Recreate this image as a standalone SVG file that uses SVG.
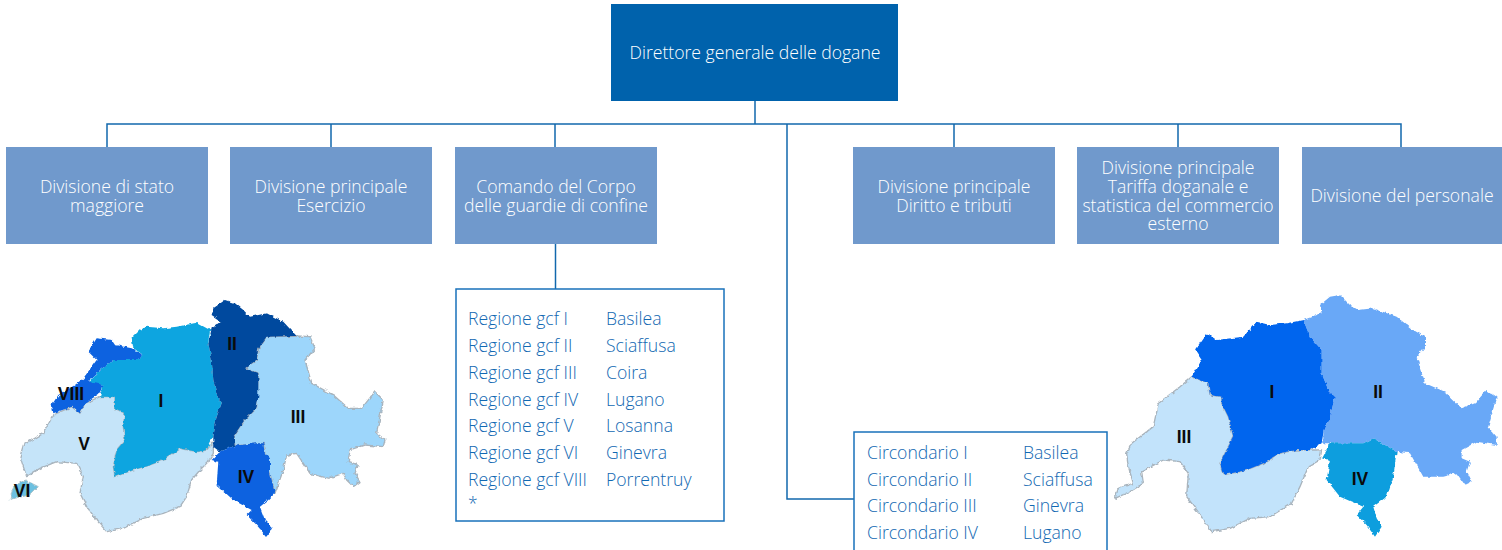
<svg xmlns="http://www.w3.org/2000/svg" width="1502" height="550" viewBox="0 0 1502 550">
<style>
text{font-family:"Open Sans","Liberation Sans",sans-serif}
.w{fill:#fff;font-size:17.6px;font-weight:300;text-anchor:middle}
.b{fill:#1168b2;font-size:17.6px;font-weight:300}
.m{fill:#0b0b0b;font-family:"Liberation Sans",Arial,sans-serif;font-size:17.5px;font-weight:700;text-anchor:middle}
.box{fill:#7099cc}
.frame{fill:#fff;stroke:#1872bb;stroke-width:1.5}
.line{fill:none;stroke:#1268ad;stroke-width:1.5}
.map path{stroke-linejoin:round}
.e{stroke:#a9b4bd;stroke-width:4}
</style>
<defs>
<filter id="rough" x="-5%" y="-5%" width="110%" height="110%">
<feTurbulence type="fractalNoise" baseFrequency=".22" numOctaves="2" seed="4" result="n"/>
<feDisplacementMap in="SourceGraphic" in2="n" scale="4" xChannelSelector="R" yChannelSelector="G"/>
<feGaussianBlur stdDeviation=".45"/>
</filter>
</defs>
<rect width="1502" height="550" fill="#fff"/>
<g id="connectors" class="line">
<path class="line" d="M755 101V124M107 147V124H1401V147M331 124V147M555 124V147M954 124V147M1178 124V147"/>
<path class="line" d="M555.500 244V289"/>
<path class="line" d="M787 124V499H854"/>
</g>
<g id="n-director"><rect x="611" y="4" width="287" height="97" fill="#0062ac"/><text class="w" x="755" y="59">Direttore generale delle dogane</text></g>
<g id="n-stato"><rect class="box" x="6" y="147" width="202" height="97"/><text class="w"><tspan x="107" y="193">Divisione di stato</tspan><tspan x="107" y="212">maggiore</tspan></text></g>
<g id="n-esercizio"><rect class="box" x="230" y="147" width="202" height="97"/><text class="w"><tspan x="331" y="193">Divisione principale</tspan><tspan x="331" y="212">Esercizio</tspan></text></g>
<g id="n-comando"><rect class="box" x="455" y="147" width="202" height="97"/><text class="w"><tspan x="556" y="193">Comando del Corpo</tspan><tspan x="556" y="212">delle guardie di confine</tspan></text></g>
<g id="n-diritto"><rect class="box" x="853" y="147" width="202" height="97"/><text class="w"><tspan x="954" y="193">Divisione principale</tspan><tspan x="954" y="212">Diritto e tributi</tspan></text></g>
<g id="n-tariffa"><rect class="box" x="1077" y="147" width="202" height="97"/><text class="w"><tspan x="1178" y="174">Divisione principale</tspan><tspan x="1178" y="193">Tariffa doganale e</tspan><tspan x="1178" y="212">statistica del commercio</tspan><tspan x="1178" y="230">esterno</tspan></text></g>
<g id="n-personale"><rect class="box" x="1302" y="147" width="200" height="97"/><text class="w" x="1402" y="202">Divisione del personale</text></g>
<g id="n-regioni"><rect class="frame" x="456" y="289" width="268" height="232"/>
<text class="b"><tspan x="468" y="325">Regione gcf I</tspan><tspan x="468" y="352">Regione gcf II</tspan><tspan x="468" y="379">Regione gcf III</tspan><tspan x="468" y="406">Regione gcf IV</tspan><tspan x="468" y="432">Regione gcf V</tspan><tspan x="468" y="459">Regione gcf VI</tspan><tspan x="468" y="486">Regione gcf VIII</tspan><tspan x="468" y="510">*</tspan></text>
<text class="b"><tspan x="606" y="325">Basilea</tspan><tspan x="606" y="352">Sciaffusa</tspan><tspan x="606" y="379">Coira</tspan><tspan x="606" y="406">Lugano</tspan><tspan x="606" y="432">Losanna</tspan><tspan x="606" y="459">Ginevra</tspan><tspan x="606" y="486">Porrentruy</tspan></text></g>
<g id="n-circondari"><rect class="frame" x="854" y="432" width="253" height="130"/>
<text class="b"><tspan x="867" y="459">Circondario I</tspan><tspan x="867" y="486">Circondario II</tspan><tspan x="867" y="512">Circondario III</tspan><tspan x="867" y="539">Circondario IV</tspan></text>
<text class="b"><tspan x="1023" y="459">Basilea</tspan><tspan x="1023" y="486">Sciaffusa</tspan><tspan x="1023" y="512">Ginevra</tspan><tspan x="1023" y="539">Lugano</tspan></text></g>
<g id="map-left" class="map">
<g filter="url(#rough)"><g transform="translate(0 280) scale(.3333)">
<path class="e" fill="#c5e4f9" d="M345 350L345 385 375 400 370 440 375 480 350 510 340 560 345 590 400 570 450 555 490 540 540 505 590 515 620 510 640 485 640 520 625 545 600 570 575 600 560 650 540 680 490 700 430 715 370 745 320 755 290 720 260 680 240 640 250 590 230 550 170 545 120 565 80 590 60 530 70 495 130 460 160 405 215 380 240 400 255 370 300 350Z"/>
<path fill="#6cc0e0" stroke="#a9c4cc" stroke-width="3" d="M40 620L75 600 115 620 90 645 30 658Z"/>
<path class="e" fill="#9dd6fb" d="M800 170L890 168 930 170 945 205 915 240 935 310 1000 345 1045 385 1085 385 1125 335 1150 360 1130 460 1155 480 1150 500 1095 495 1050 510 1045 545 1075 555 1065 580 1080 605 1060 620 1040 600 1030 580 985 595 930 580 890 520 860 525 850 570 825 640 810 580 795 520 790 490 705 497 700 470 730 425 770 385 775 280 735 265 770 240 775 205Z"/>
<path fill="#0aa5e0" d="M420 150L440 140 490 145 530 140 590 128 630 150 625 190 635 240 640 300 650 345 665 370 650 410 640 470 620 510 590 515 540 505 490 540 450 555 400 570 345 590 340 560 350 510 375 480 370 440 375 400 345 385 345 350 300 350 310 315 265 310 300 270 340 240 415 240 430 225 400 205 395 175Z"/>
<path fill="#0a62e0" d="M290 175L335 180 345 195 395 205 430 225 415 240 340 240 300 270 265 305 310 315 300 340 255 370 240 400 215 380 160 400 155 375 175 345 225 315 250 295 290 240 265 215Z"/>
<path fill="#064a9e" d="M635 105L640 85 675 60 705 70 730 90 750 110 800 100 850 125 890 168 800 170 775 205 770 240 735 265 775 280 775 350 770 385 730 425 700 470 705 497 660 515 640 500 640 470 650 410 665 370 650 345 640 300 635 240 625 190 635 145 665 125 645 112Z"/>
<path fill="#0a62e0" d="M660 515L705 497 765 490 790 490 795 520 810 535 810 580 825 640 805 660 780 680 795 720 815 740 800 770 770 735 740 705 755 690 700 660 650 615 655 545 635 540Z"/>
</g></g>
<text class="m" x="161" y="407">I</text><text class="m" x="232" y="350">II</text><text class="m" x="298" y="423">III</text><text class="m" x="246" y="483">IV</text><text class="m" x="84" y="450">V</text><text class="m" x="22" y="497">VI</text><text class="m" x="71" y="400">VIII</text>
</g>
<g id="map-right" class="map">
<g filter="url(#rough)"><g transform="translate(1100 280) scale(.3333)">
<path class="e" fill="#c2e3fb" d="M275 290L325 310 330 345 365 350 365 370 385 410 400 470 360 550 370 585 440 570 490 550 540 520 590 510 630 510 665 510 660 540 625 560 600 620 575 670 510 710 450 715 390 745 335 755 290 690 260 650 265 580 240 545 190 540 125 575 130 610 90 635 45 655 55 625 100 610 85 560 80 520 95 490 160 440 175 370 240 320Z"/>
<path fill="#69a8f7" d="M610 120L665 100 660 75 690 50 720 45 750 75 775 90 820 85 890 110 940 150 975 170 975 200 950 230 975 310 1035 335 1085 385 1125 370 1160 330 1190 350 1165 440 1190 470 1190 495 1130 485 1085 510 1085 535 1110 545 1100 575 1115 605 1095 615 1070 580 1030 590 970 590 930 520 890 515 820 475 790 490 690 490 670 490 670 460 690 410 705 350 685 330 665 280 665 210 630 170Z"/>
<path fill="#0565ee" d="M320 160L350 180 430 170 470 125 510 135 560 130 610 120 630 170 665 210 665 280 685 330 705 350 690 410 670 460 665 490 630 510 590 510 540 520 490 550 440 570 370 585 360 550 400 470 385 410 365 370 365 350 330 345 325 310 275 290 305 240 285 210Z"/>
<path fill="#0e9ede" d="M690 490L790 490 820 475 890 515 880 590 860 650 820 680 830 715 845 740 825 770 800 735 770 705 790 680 720 650 680 600 690 540 665 535Z"/>
</g></g>
<text class="m" x="1272" y="398">I</text><text class="m" x="1378" y="398">II</text><text class="m" x="1184" y="443">III</text><text class="m" x="1360" y="485">IV</text>
</g>
</svg>
